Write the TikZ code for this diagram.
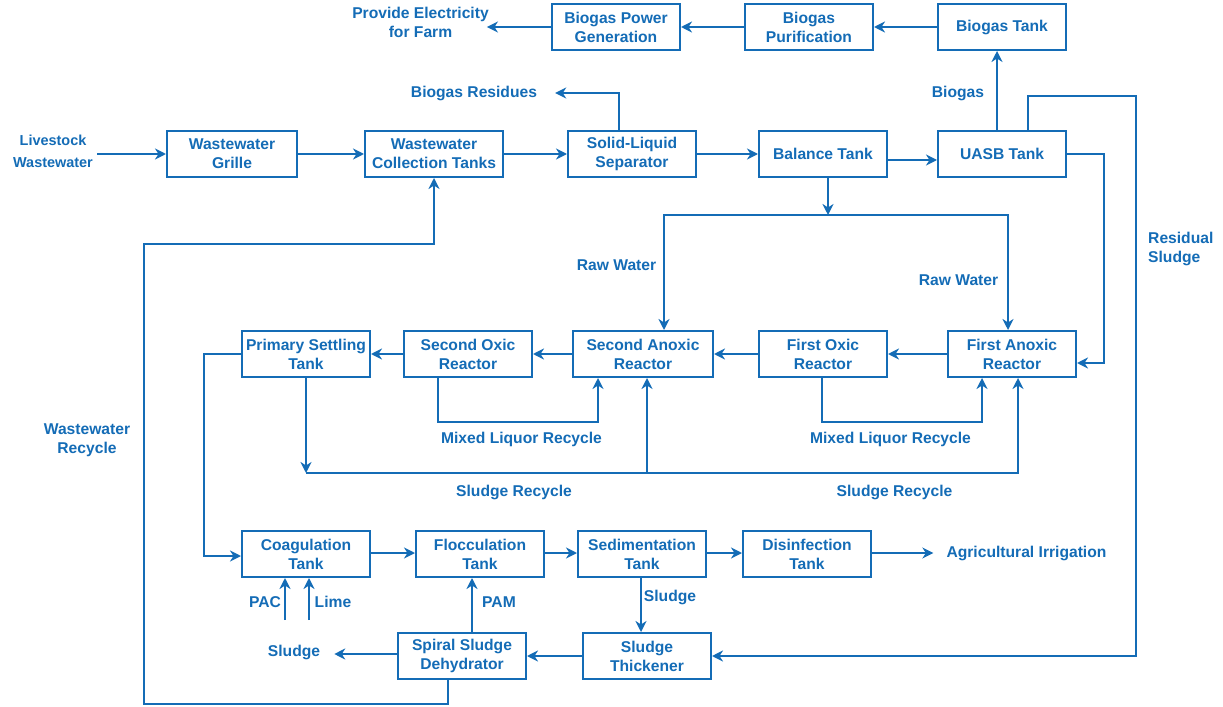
\documentclass[tikz,border=0pt]{standalone}
\usepackage{fontspec}
\setmainfont{Liberation Sans}
\usetikzlibrary{arrows.meta,calc}
\definecolor{bl}{RGB}{20,108,182}
\begin{document}
\begin{tikzpicture}[x=1bp,y=-1bp,
  font=\fontsize{15.7}{19}\selectfont\bfseries,
  box/.style={draw=bl, line width=2bp, minimum width=128bp, minimum height=46bp, align=center, inner sep=1pt, text=bl},
  lbl/.style={text=bl, align=center, inner sep=0pt},
  arr/.style={draw=bl, line width=2bp, -{Stealth[length=11bp,width=11bp,inset=3.5bp]}},
  ln/.style={draw=bl, line width=2bp}]
\useasboundingbox (0,0) rectangle (1223,707);

% row 0
\node[box] (pgen) at (616,27) {Biogas Power\\Generation};
\node[box] (puri) at (809,27) {Biogas\\Purification};
\node[box] (btank) at (1002,27) {Biogas Tank};
\node[lbl] (elec) at (420.5,22) {Provide Electricity\\for Farm};
\node[lbl] (resid) at (474,93) {Biogas Residues};
\node[lbl] (biogas) at (958,93) {Biogas};

% row 1
\node[lbl, font=\fontsize{14.5}{22}\selectfont\bfseries] (live) at (53,151) {Livestock\\Wastewater};
\node[box, minimum width=130bp] (grille) at (232,154) {Wastewater\\Grille};
\node[box, minimum width=138bp] (coll) at (434,154) {Wastewater\\Collection Tanks};
\node[box] (sep) at (632,154) {Solid-Liquid\\Separator};
\node[box] (bal) at (823,154) {Balance Tank};
\node[box] (uasb) at (1002,154) {UASB Tank};
\node[lbl, align=left, anchor=west] (ressl) at (1148,249) {Residual\\Sludge};
\node[lbl] (raw2) at (616.5,265) {Raw Water};
\node[lbl] (raw1) at (958.5,280) {Raw Water};

% row 2
\node[box] (pst) at (306,354) {Primary Settling\\Tank};
\node[box] (sox) at (468,354) {Second Oxic\\Reactor};
\node[box, minimum width=140bp] (san) at (643,354) {Second Anoxic\\Reactor};
\node[box] (fox) at (823,354) {First Oxic\\Reactor};
\node[box] (fan) at (1012,354) {First Anoxic\\Reactor};
\node[lbl] (mlr2) at (521.5,439) {Mixed Liquor Recycle};
\node[lbl] (mlr1) at (890.5,439) {Mixed Liquor Recycle};
\node[lbl] (sr2) at (514,492) {Sludge Recycle};
\node[lbl] (sr1) at (894.5,492) {Sludge Recycle};
\node[lbl] (wwr) at (87,440) {Wastewater\\Recycle};

% row 3
\node[box] (coag) at (306,554) {Coagulation\\Tank};
\node[box] (floc) at (480,554) {Flocculation\\Tank};
\node[box] (sed) at (642,554) {Sedimentation\\Tank};
\node[box] (dis) at (807,554) {Disinfection\\Tank};
\node[lbl] (agri) at (1026.5,553) {Agricultural Irrigation};
\node[lbl] (pac) at (265,602) {PAC};
\node[lbl] (lime) at (333,602) {Lime};
\node[lbl] (pam) at (499,602) {PAM};
\node[lbl] (sl1) at (670,597) {Sludge};

% row 4
\node[box] (spiral) at (462,656) {Spiral Sludge\\Dehydrator};
\node[box] (thick) at (647,656) {Sludge\\Thickener};
\node[lbl] (sl2) at (294,652) {Sludge};

\coordinate (pac0) at (285,620);
\coordinate (lime0) at (309,620);

% connectors top
\draw[arr] (pgen.west) -- ([xshift=-2bp]elec.east |- pgen.west);
\draw[arr] (puri.west) -- (pgen.east);
\draw[arr] (btank.west) -- (puri.east);
\draw[arr] (619,0 |- sep.north) |- ([xshift=18bp]resid.east |- 0,93);
\draw[arr] (997,0 |- uasb.north) -- (997,0 |- btank.south);
\draw[arr] (1028,0 |- uasb.north) -- (1028,96) -- (1136,96) |- (thick.east);
\draw[arr] (uasb.east) -- (1104,154) |- ([yshift=-9bp]fan.east);

% row 1
\draw[arr] ([xshift=4bp]live.east |- grille.west) -- (grille.west);
\draw[arr] (grille.east) -- (coll.west);
\draw[arr] (coll.east) -- (sep.west);
\draw[arr] (sep.east) -- (bal.west);
\draw[arr] ([yshift=-6bp]bal.east) -- ([yshift=-6bp]uasb.west);
\draw[arr] (828,0 |- bal.south) -- (828,215);
\draw[arr] (828,215) -| (664,0 |- san.north);
\draw[arr] (828,215) -| (1008,0 |- fan.north);

% row 2
\draw[arr] (fan.west) -- (fox.east);
\draw[arr] (fox.west) -- (san.east);
\draw[arr] (san.west) -- (sox.east);
\draw[arr] (sox.west) -- (pst.east);
\draw[arr] (438,0 |- sox.south) |- (598,422) -- (598,0 |- san.south);
\draw[arr] (822,0 |- fox.south) |- (982,422) -- (982,0 |- fan.south);
\draw[arr] (pst.south) -- (306,473);
\draw[arr] (306,473) -| (1018,0 |- fan.south);
\draw[arr] (647,473) -- (647,0 |- san.south);
\draw[arr] (pst.west) -- (204,354) |- ([yshift=-2bp]coag.west);

% row 3
\draw[arr] ([yshift=1bp]coag.east) -- ([yshift=1bp]floc.west);
\draw[arr] ([yshift=1bp]floc.east) -- ([yshift=1bp]sed.west);
\draw[arr] ([yshift=1bp]sed.east) -- ([yshift=1bp]dis.west);
\draw[arr] ([yshift=1bp]dis.east) -- ([xshift=-13bp,yshift=1bp]agri.west |- dis.east);
\draw[arr] (pac0) -- (pac0 |- coag.south);
\draw[arr] (lime0) -- (lime0 |- coag.south);
\draw[arr] (472,0 |- spiral.north) -- (472,0 |- floc.south);
\draw[arr] (641,0 |- sed.south) -- (641,0 |- thick.north);

% row 4
\draw[arr] (thick.west) -- (spiral.east);
\draw[arr] ([yshift=2bp]spiral.west) -- ([xshift=14bp,yshift=2bp]sl2.east |- spiral.west);
\draw[arr] (448,0 |- spiral.south) -- (448,704) -| (144,244) -| (coll.south);
\end{tikzpicture}
\end{document}
